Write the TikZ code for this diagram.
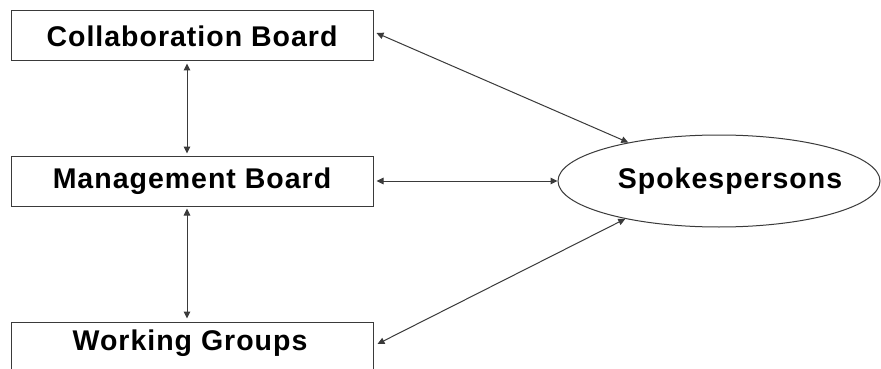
\documentclass[tikz,border=0pt]{standalone}
\usepackage{fontspec}
\setmainfont{Liberation Sans}
\newfontfamily\labelfont[LetterSpace=3.5]{Liberation Sans}
\usetikzlibrary{arrows.meta,shapes.geometric}
\definecolor{linegray}{HTML}{3A3A3A}
\begin{document}
\begin{tikzpicture}[x=1pt,y=-1pt,
  labeltext/.style={font=\labelfont\fontsize{28.5}{32}\selectfont\bfseries},
  boxnode/.style={draw=linegray,line width=1pt,minimum width=362pt,minimum height=50pt,
    inner sep=0pt,labeltext},
  ovalnode/.style={ellipse,draw=linegray,line width=1pt,minimum width=322pt,minimum height=92pt,
    inner sep=0pt},
  link/.style={draw=linegray,line width=1pt,{Triangle[length=7pt,width=6.5pt]}-{Triangle[length=7pt,width=6.5pt]}}]
  \useasboundingbox[fill=white] (0,0) rectangle (881,369);
  \node[boxnode] (cb) at (192,36) {Collaboration Board};
  \node[boxnode] (mb) at (192,181) {Management Board};
  \node[boxnode] (wg) at (192,347) {};
  \node[labeltext] (wgt) at (190,343) {Working Groups};
  \node[ovalnode] (sp) at (719,181) {};
  \node[labeltext] (spt) at (730,181) {Spokespersons};
  % vertical links between the boards
  \draw[link] ([shift={(-5,2)}]cb.south) -- ([shift={(-5,-2)}]mb.north);
  \draw[link] ([shift={(-5,2)}]mb.south) -- ([shift={(-5,-3)}]wg.north);
  % links to the spokespersons
  \draw[link] ([shift={(3,-3)}]cb.east) -- (sp.157.6);
  \draw[link] ([shift={(3,0)}]mb.east) -- (sp.west);
  \draw[link] ([shift={(4,-3)}]wg.east) -- (sp.202.4);
\end{tikzpicture}
\end{document}
